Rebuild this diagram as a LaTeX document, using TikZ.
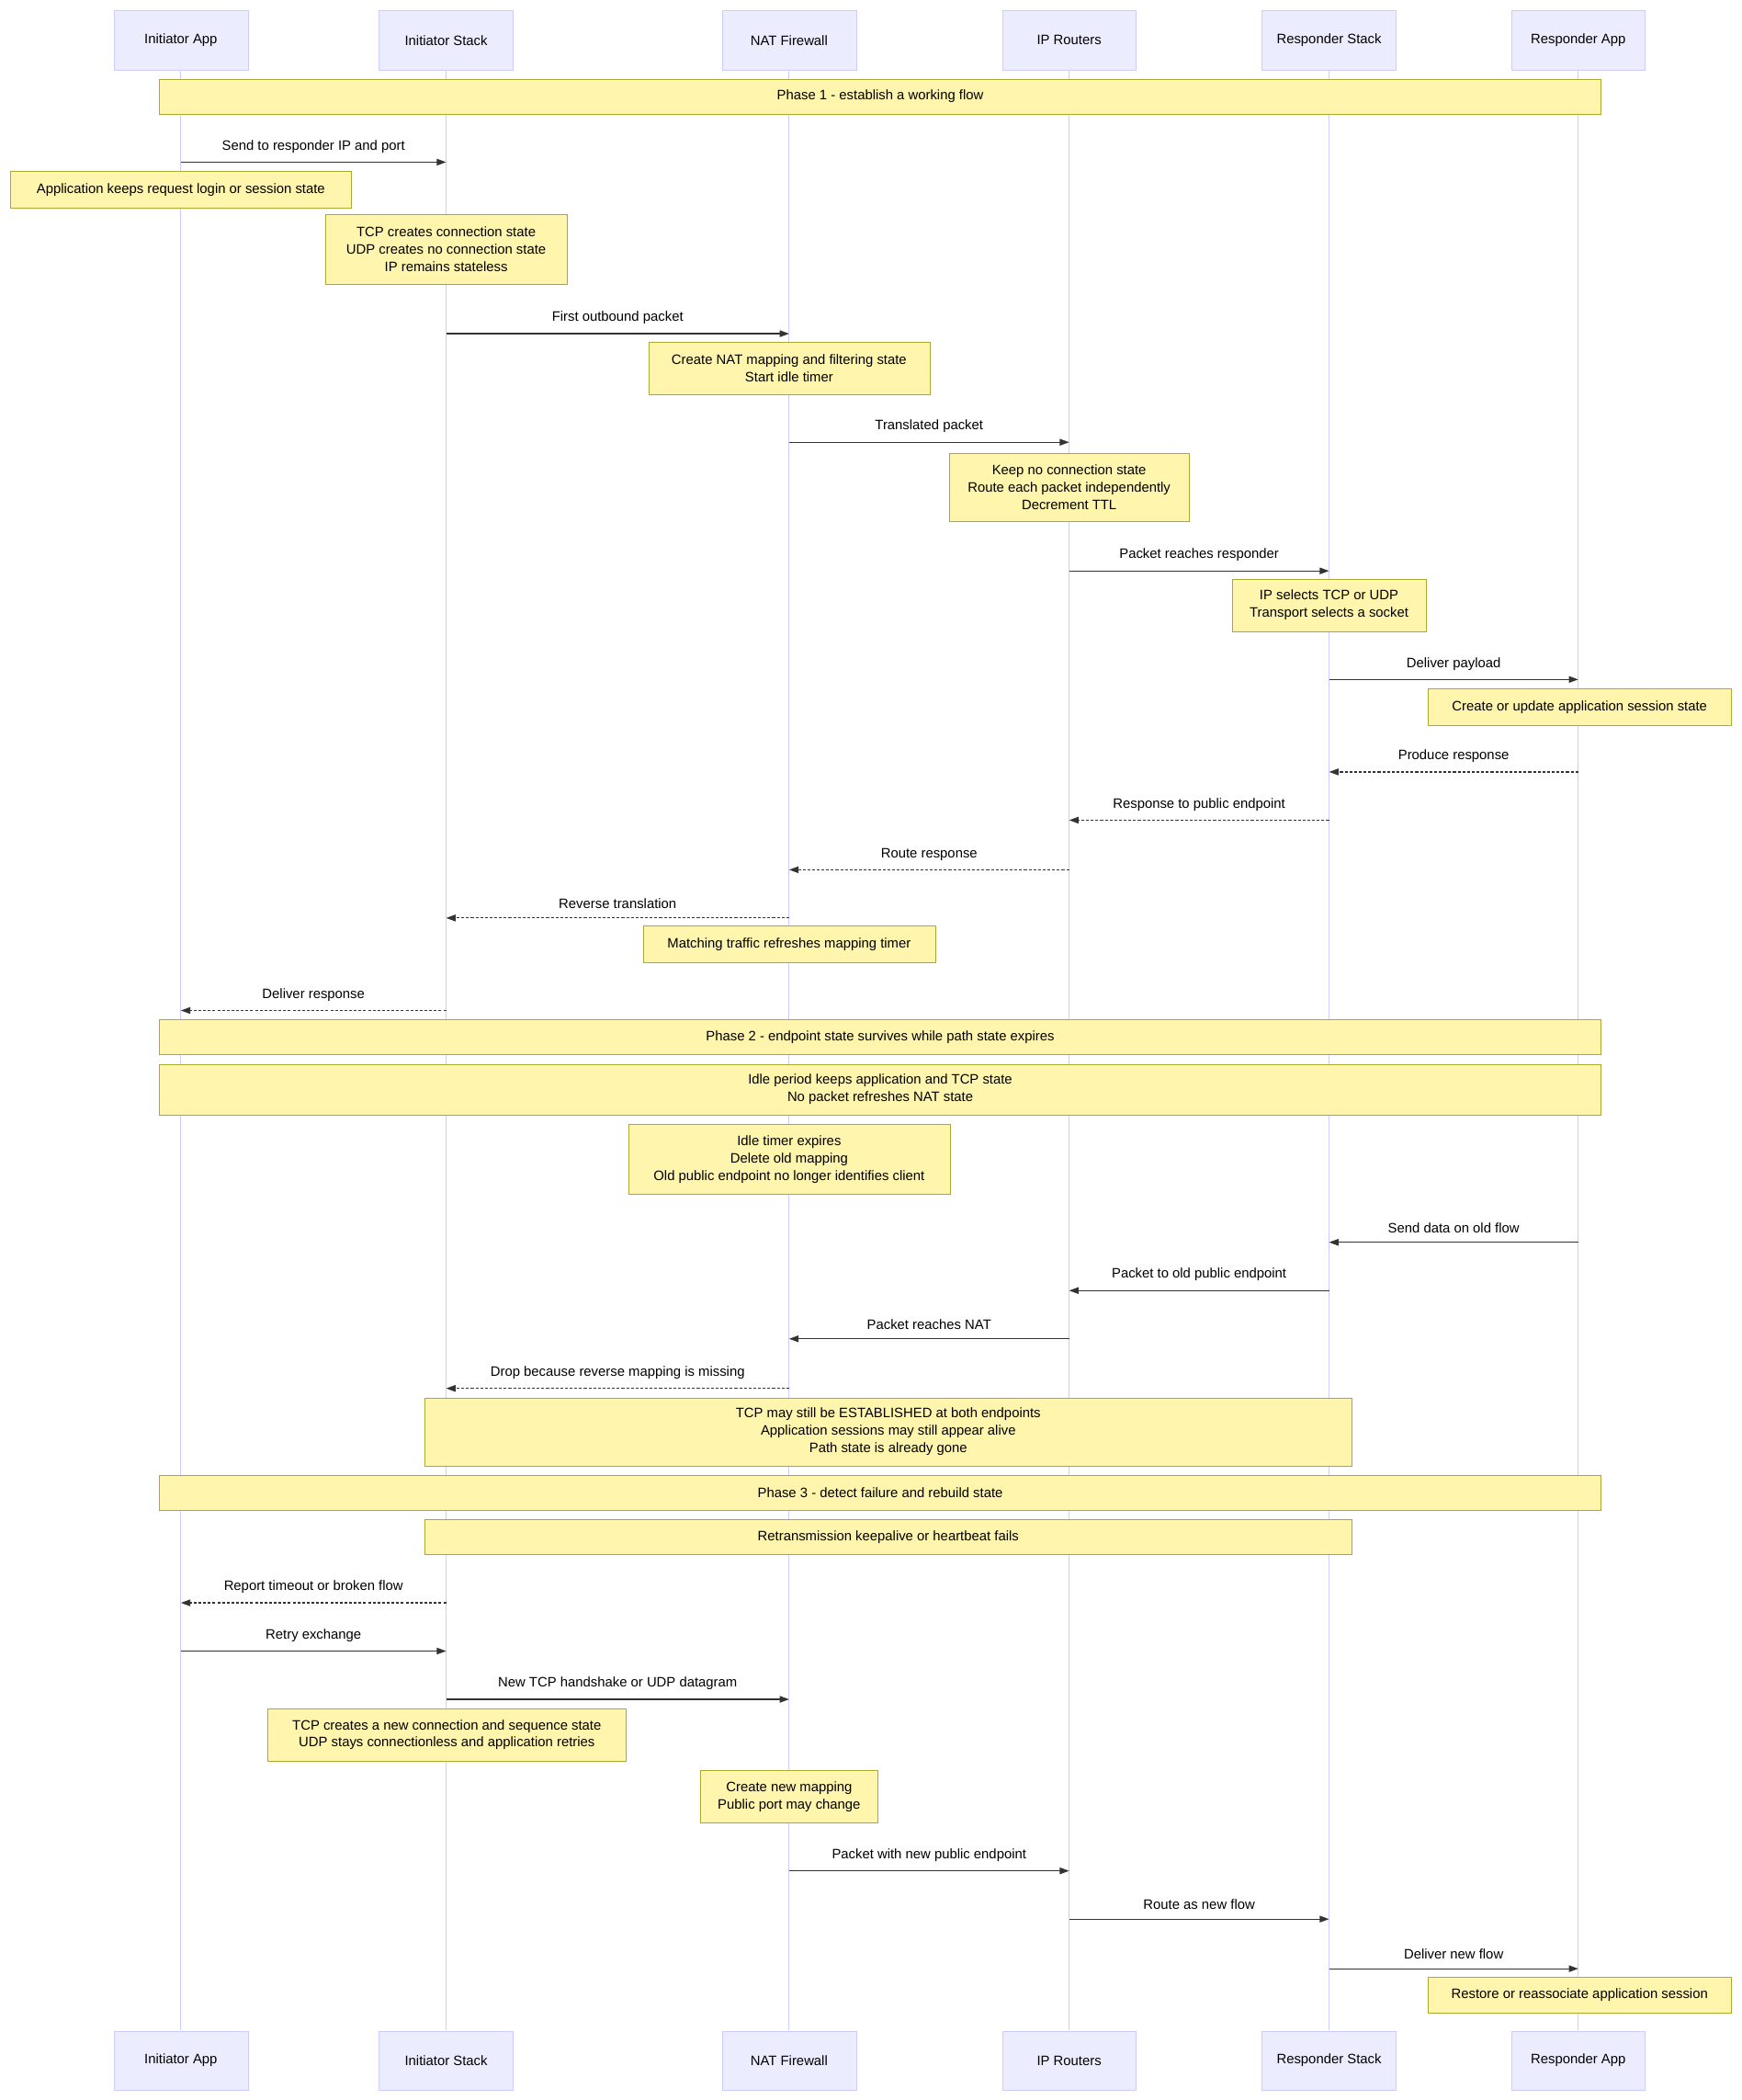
\documentclass[tikz,border=0pt]{standalone}
\usepackage{fontspec}
\setmainfont{Liberation Sans}
\usetikzlibrary{positioning,arrows.meta}
\definecolor{actfill}{HTML}{ECECFF}
\definecolor{actline}{HTML}{CCCCFF}
\definecolor{notefill}{HTML}{FFF5AD}
\definecolor{noteline}{HTML}{AAAA33}
\definecolor{msgline}{HTML}{333333}
\tikzset{
  size/.style 2 args={minimum width=#1*0.05cm, minimum height=#2*0.05cm},
  actor/.style={draw=actline, fill=actfill, size={100}{44}, inner sep=0pt, font=\fontsize{14.5}{17}\selectfont},
  note/.style={draw=noteline, fill=notefill, align=center, inner sep=0pt, font=\fontsize{14.5}{18.5}\selectfont},
  msg/.style={draw=msgline, line width=1.2pt, -{Triangle[length=10pt,width=7pt]}},
  reply/.style={msg, dashed, dash pattern=on 3pt off 2pt},
  lbl/.style={font=\fontsize{14.5}{17}\selectfont, above=6pt}
}
% message between two lifelines at a given height
\newcommand{\msgto}[6]{%
  \coordinate (#1s) at (#2,#4);
  \coordinate (#1e) at (#3,#4);
  \draw[#6] (#1s) -- (#1e) node[midway, lbl] {#5};
}
\begin{document}
\begin{tikzpicture}[x=0.05cm, y=-0.05cm]
\useasboundingbox (0,0) rectangle (1300,1567);

% actors, top and bottom
\foreach \n/\x/\t in {ia/135/Initiator App, is/333/Initiator Stack, nat/589/NAT Firewall, ip/798/IP Routers, rs/992/Responder Stack, ra/1178/Responder App} {
  \draw[actline, line width=0.8pt] (\x,52) -- (\x,1515);
  \node[actor] (\n top) at (\x,30) {\t};
  \node[actor] (\n bot) at (\x,1537.5) {\t};
}

% Phase 1
\node[note, size={1076}{26}] (ph1) at (657,72) {Phase 1 - establish a working flow};
\msgto{m1}{135}{333}{121}{Send to responder IP and port}{msg}
\node[note, size={254}{27}] (n1) at (135,141.5) {Application keeps request login or session state};
\node[note, size={180}{52}] (n2) at (333,186) {TCP creates connection state\\UDP creates no connection state\\IP remains stateless};
\msgto{m2}{333}{589}{249}{First outbound packet}{msg}
\node[note, size={210}{39}] (n3) at (589,274.5) {Create NAT mapping and filtering state\\Start idle timer};
\msgto{m3}{589}{798}{330}{Translated packet}{msg}
\node[note, size={179}{51}] (n4) at (798,363.5) {Keep no connection state\\Route each packet independently\\Decrement TTL};
\msgto{m4}{798}{992}{426}{Packet reaches responder}{msg}
\node[note, size={145}{39}] (n5) at (992,451.5) {IP selects TCP or UDP\\Transport selects a socket};
\msgto{m5}{992}{1178}{507}{Deliver payload}{msg}
\node[note, size={226}{27}] (n6) at (1179,527.5) {Create or update application session state};
\msgto{m6}{1178}{992}{576}{Produce response}{reply}
\msgto{m7}{992}{798}{612}{Response to public endpoint}{reply}
\msgto{m8}{798}{589}{649}{Route response}{reply}
\msgto{m9}{589}{333}{685}{Reverse translation}{reply}
\node[note, size={218}{27}] (n7) at (589,704.5) {Matching traffic refreshes mapping timer};
\msgto{m10}{333}{135}{754}{Deliver response}{reply}

% Phase 2
\node[note, size={1076}{26}] (ph2) at (657,774) {Phase 2 - endpoint state survives while path state expires};
\node[note, size={1076}{38}] (n8) at (657,813) {Idle period keeps application and TCP state\\No packet refreshes NAT state};
\node[note, size={240}{52}] (n9) at (589,865) {Idle timer expires\\Delete old mapping\\Old public endpoint no longer identifies client};
\msgto{m11}{1178}{992}{927}{Send data on old flow}{msg}
\msgto{m12}{992}{798}{963}{Packet to old public endpoint}{msg}
\msgto{m13}{798}{589}{999}{Packet reaches NAT}{msg}
\msgto{m14}{589}{333}{1036}{Drop because reverse mapping is missing}{reply}
\node[note, size={692}{51}] (n10) at (663,1068.5) {TCP may still be ESTABLISHED at both endpoints\\Application sessions may still appear alive\\Path state is already gone};

% Phase 3
\node[note, size={1076}{26}] (ph3) at (657,1114) {Phase 3 - detect failure and rebuild state};
\node[note, size={692}{26}] (n11) at (663,1147) {Retransmission keepalive or heartbeat fails};
\msgto{m15}{333}{135}{1196}{Report timeout or broken flow}{reply}
\msgto{m16}{135}{333}{1232}{Retry exchange}{msg}
\msgto{m17}{333}{589}{1268}{New TCP handshake or UDP datagram}{msg}
\node[note, size={267}{39}] (n12) at (333.5,1294.5) {TCP creates a new connection and sequence state\\UDP stays connectionless and application retries};
\node[note, size={132}{39}] (n13) at (589,1340.5) {Create new mapping\\Public port may change};
\msgto{m18}{589}{798}{1396}{Packet with new public endpoint}{msg}
\msgto{m19}{798}{992}{1432}{Route as new flow}{msg}
\msgto{m20}{992}{1178}{1469}{Deliver new flow}{msg}
\node[note, size={226}{27}] (n14) at (1179,1488.5) {Restore or reassociate application session};
\end{tikzpicture}
\end{document}
